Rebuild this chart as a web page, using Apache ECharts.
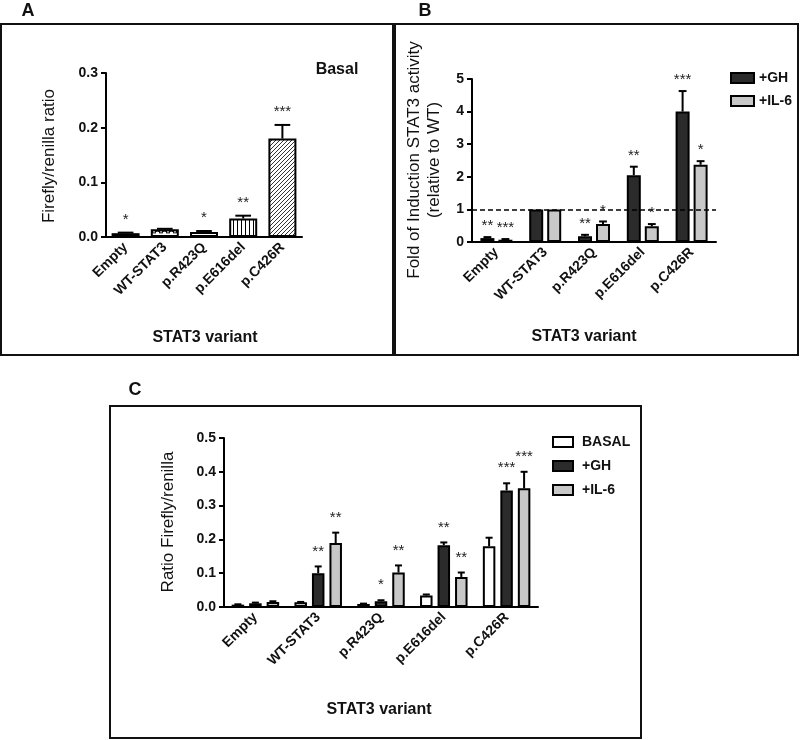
<!DOCTYPE html>
<html><head><meta charset="utf-8">
<script src="https://cdn.jsdelivr.net/npm/echarts@6/dist/echarts.min.js"></script>
<style>html,body{margin:0;padding:0;background:#fff}#c{width:800px;height:740px}</style>
</head><body><div id="c"></div>
<script>
// ---------- data ----------
const categories = ['Empty', 'WT-STAT3', 'p.R423Q', 'p.E616del', 'p.C426R'];

// Panel A (Basal)
const aBasal    = [0.007, 0.014, 0.009, 0.034, 0.180];
const aBasalErr = [0.008, 0.015, 0.011, 0.039, 0.205];
const aStars    = ['*', '', '*', '**', '***'];
const aYTicks   = [0.0, 0.1, 0.2, 0.3];

// Panel B (fold of induction)
const bGH       = [0.12, 1.00, 0.18, 2.05, 4.00];
const bGHErr    = [0.15, 1.00, 0.22, 2.31, 4.63];
const bGHStars  = ['**', '', '**', '**', '***'];
const bIL6      = [0.07, 1.00, 0.55, 0.48, 2.37];
const bIL6Err   = [0.09, 1.00, 0.63, 0.55, 2.48];
const bIL6Stars = ['***', '', '*', '*', '*'];
const bYTicks   = [0, 1, 2, 3, 4, 5];
const bRefLine  = 1;

// Panel C (ratio firefly/renilla)
const cBasal     = [0.007, 0.014, 0.009, 0.034, 0.180];
const cBasalErr  = [0.008, 0.015, 0.010, 0.037, 0.205];
const cBasalStars= ['', '', '', '', ''];
const cGH        = [0.011, 0.100, 0.017, 0.183, 0.345];
const cGHErr     = [0.013, 0.120, 0.020, 0.191, 0.366];
const cGHStars   = ['', '**', '*', '**', '***'];
const cIL6       = [0.015, 0.189, 0.102, 0.089, 0.351];
const cIL6Err    = [0.017, 0.220, 0.123, 0.102, 0.400];
const cIL6Stars  = ['', '**', '**', '**', '***'];
const cYTicks    = [0.0, 0.1, 0.2, 0.3, 0.4, 0.5];

// ---------- styles ----------
const FONT = '"Liberation Sans", Arial, Helvetica, sans-serif';
const GH_COLOR = '#2b2b2b', IL6_COLOR = '#c8c8c8', BASAL_COLOR = '#ffffff';

function pat(w, h, draw) {
  const c = document.createElement('canvas');
  c.width = w; c.height = h;
  const g = c.getContext('2d');
  g.fillStyle = '#fff'; g.fillRect(0, 0, w, h);
  g.strokeStyle = '#000'; g.fillStyle = '#000';
  draw(g);
  return { image: c, repeat: 'repeat' };
}
const patDots = pat(4, 4, g => { g.fillRect(0, 0, 2, 4); });
const patArch = pat(7, 6, g => { g.lineWidth = 1.3; g.beginPath(); g.arc(3.5, 5.5, 2.6, Math.PI, 0); g.stroke(); });
const patVert = pat(4, 4, g => { g.fillRect(1, 0, 1, 4); });
const patDiag = pat(4, 4, g => {
  g.strokeStyle = '#333'; g.lineWidth = 1;
  g.beginPath(); g.moveTo(0, 4); g.lineTo(4, 0);
  g.moveTo(-1, 1); g.lineTo(1, -1); g.moveTo(3, 5); g.lineTo(5, 3); g.stroke();
});
const aFills = [patDots, patArch, '#ffffff', patVert, patDiag];

function errRender(means, errs, stars, offset, bw, starGap) {
  return function (params, api) {
    const i = params.dataIndex;
    const pBase = api.coord([i, means[i]]);
    const pTop = api.coord([i, errs[i]]);
    const x = pBase[0] + offset;
    const half = bw * 0.28;
    const children = [];
    if (errs[i] > means[i]) {
      children.push({ type: 'line', shape: { x1: x, y1: pBase[1], x2: x, y2: pTop[1] }, style: { stroke: '#000', lineWidth: 2 } });
      children.push({ type: 'line', shape: { x1: x - half, y1: pTop[1], x2: x + half, y2: pTop[1] }, style: { stroke: '#000', lineWidth: 2 } });
    }
    if (stars[i]) {
      children.push({ type: 'text', x: x, y: pTop[1] - starGap,
        style: { text: stars[i], fill: '#222', fontSize: 15, fontFamily: FONT, align: 'center', verticalAlign: 'middle' } });
    }
    return { type: 'group', children: children };
  };
}
function offsets(n, bw, gap) {
  const total = n * bw + (n - 1) * gap;
  const res = [];
  for (let k = 0; k < n; k++) res.push(-total / 2 + bw / 2 + k * (bw + gap));
  return res;
}

function xAxisCfg(gi) {
  return {
    type: 'category', gridIndex: gi, data: categories,
    axisLine: { lineStyle: { color: '#000', width: 2 } },
    axisTick: { alignWithLabel: true, length: 5, lineStyle: { color: '#000', width: 2 } },
    axisLabel: { rotate: 45, interval: 0, margin: 8, color: '#111', fontSize: 14, fontWeight: 'bold', fontFamily: FONT },
    splitLine: { show: false }
  };
}
function yAxisCfg(gi, ticks, dec) {
  return {
    type: 'value', gridIndex: gi, min: ticks[0], max: ticks[ticks.length - 1], interval: ticks[1] - ticks[0],
    axisLine: { show: true, lineStyle: { color: '#000', width: 2 } },
    axisTick: { show: true, length: 5, lineStyle: { color: '#000', width: 2 } },
    axisLabel: { margin: 8, color: '#111', fontSize: 14, fontWeight: 'bold', fontFamily: FONT,
      formatter: v => v.toFixed(dec) },
    splitLine: { show: false }
  };
}

// geometry
const A_BW = 28;
const B_BW = 14, B_GAP = 4;
const C_BW = 12.5, C_GAP = 5;
const bOff = offsets(2, B_BW, B_GAP);
const cOff = offsets(3, C_BW, C_GAP);
const barBorder = { borderColor: '#000', borderWidth: 2 };

function errData(means, errs) { return means.map((m, i) => [i, m, errs[i]]); }

const series = [
  // Panel A
  { type: 'bar', name: 'Basal', xAxisIndex: 0, yAxisIndex: 0, barWidth: A_BW,
    data: aBasal.map((v, i) => ({ value: v, itemStyle: { color: aFills[i] } })),
    itemStyle: barBorder },
  { type: 'custom', xAxisIndex: 0, yAxisIndex: 0, clip: false, z: 5,
    renderItem: errRender(aBasal, aBasalErr, aStars, 0, A_BW, 13),
    encode: { x: 0, y: 2 }, data: errData(aBasal, aBasalErr) },

  // Panel B
  { type: 'bar', name: '+GH', xAxisIndex: 1, yAxisIndex: 1, barWidth: B_BW, barGap: (B_GAP / B_BW * 100) + '%',
    data: bGH, itemStyle: Object.assign({ color: GH_COLOR }, barBorder),
    markLine: { silent: true, symbol: 'none', label: { show: false },
      lineStyle: { color: '#000', type: [5, 3], width: 1.5 }, data: [{ yAxis: bRefLine }] } },
  { type: 'bar', name: '+IL-6', xAxisIndex: 1, yAxisIndex: 1, barWidth: B_BW, barGap: (B_GAP / B_BW * 100) + '%',
    data: bIL6, itemStyle: Object.assign({ color: IL6_COLOR }, barBorder) },
  { type: 'custom', xAxisIndex: 1, yAxisIndex: 1, clip: false, z: 5,
    renderItem: errRender(bGH, bGHErr, bGHStars, bOff[0], B_BW, 11),
    encode: { x: 0, y: 2 }, data: errData(bGH, bGHErr) },
  { type: 'custom', xAxisIndex: 1, yAxisIndex: 1, clip: false, z: 5,
    renderItem: errRender(bIL6, bIL6Err, bIL6Stars, bOff[1], B_BW, 11),
    encode: { x: 0, y: 2 }, data: errData(bIL6, bIL6Err) },

  // Panel C
  { type: 'bar', name: 'BASAL', xAxisIndex: 2, yAxisIndex: 2, barWidth: C_BW, barGap: (C_GAP / C_BW * 100) + '%',
    data: cBasal, itemStyle: Object.assign({ color: BASAL_COLOR }, barBorder) },
  { type: 'bar', name: '+GH', xAxisIndex: 2, yAxisIndex: 2, barWidth: C_BW, barGap: (C_GAP / C_BW * 100) + '%',
    data: cGH, itemStyle: Object.assign({ color: GH_COLOR }, barBorder) },
  { type: 'bar', name: '+IL-6', xAxisIndex: 2, yAxisIndex: 2, barWidth: C_BW, barGap: (C_GAP / C_BW * 100) + '%',
    data: cIL6, itemStyle: Object.assign({ color: IL6_COLOR }, barBorder) },
  { type: 'custom', xAxisIndex: 2, yAxisIndex: 2, clip: false, z: 5,
    renderItem: errRender(cBasal, cBasalErr, cBasalStars, cOff[0], C_BW, 15),
    encode: { x: 0, y: 2 }, data: errData(cBasal, cBasalErr) },
  { type: 'custom', xAxisIndex: 2, yAxisIndex: 2, clip: false, z: 5,
    renderItem: errRender(cGH, cGHErr, cGHStars, cOff[1], C_BW, 15),
    encode: { x: 0, y: 2 }, data: errData(cGH, cGHErr) },
  { type: 'custom', xAxisIndex: 2, yAxisIndex: 2, clip: false, z: 5,
    renderItem: errRender(cIL6, cIL6Err, cIL6Stars, cOff[2], C_BW, 15),
    encode: { x: 0, y: 2 }, data: errData(cIL6, cIL6Err) }
];

function txt(text, x, y, size, weight, rot) {
  return { type: 'text', x: x, y: y, rotation: rot || 0,
    style: { text: text, fill: '#111', fontSize: size, fontWeight: weight, fontFamily: FONT, align: 'center', verticalAlign: 'middle' } };
}
function frame(x, y, w, h) {
  return { type: 'rect', shape: { x: x, y: y, width: w, height: h }, style: { fill: 'none', stroke: '#111', lineWidth: 2 }, z: 100 };
}

const option = {
  animation: false,
  backgroundColor: '#fff',
  textStyle: { fontFamily: FONT },
  grid: [
    { left: 106, top: 73, width: 196, height: 164 },
    { left: 472, top: 79, width: 244, height: 163 },
    { left: 224, top: 438, width: 314, height: 169 }
  ],
  xAxis: [xAxisCfg(0), xAxisCfg(1), xAxisCfg(2)],
  yAxis: [yAxisCfg(0, aYTicks, 1), yAxisCfg(1, bYTicks, 0), yAxisCfg(2, cYTicks, 1)],
  legend: [
    { data: ['+GH', '+IL-6'], orient: 'vertical', left: 730, top: 71, padding: 0, icon: 'rect',
      itemWidth: 23, itemHeight: 10, itemGap: 9, selectedMode: false,
      itemStyle: { borderColor: '#000', borderWidth: 2 },
      textStyle: { fontSize: 14, fontWeight: 'bold', color: '#111', fontFamily: FONT } },
    { data: ['BASAL', '+GH', '+IL-6'], orient: 'vertical', left: 552, top: 435, padding: 0, icon: 'rect',
      itemWidth: 20, itemHeight: 10, itemGap: 10, selectedMode: false,
      itemStyle: { borderColor: '#000', borderWidth: 2 },
      textStyle: { fontSize: 14, fontWeight: 'bold', color: '#111', fontFamily: FONT, padding: [0, 0, 0, 4] } }
  ],
  graphic: [
    frame(1, 24, 392, 331),
    frame(395, 24, 403, 331),
    frame(110, 406, 531, 332),
    txt('A', 28, 11, 18, 'bold'),
    txt('B', 425, 11, 18, 'bold'),
    txt('C', 135, 390, 18, 'bold'),
    txt('Basal', 337, 70, 16, 'bold'),
    txt('Firefly/renilla ratio', 49, 156, 17, 'normal', Math.PI / 2),
    txt('Fold of Induction STAT3 activity', 414, 160, 17, 'normal', Math.PI / 2),
    txt('(relative to WT)', 434, 160, 17, 'normal', Math.PI / 2),
    txt('Ratio Firefly/renilla', 168, 522, 17, 'normal', Math.PI / 2),
    txt('STAT3 variant', 205, 338, 16, 'bold'),
    txt('STAT3 variant', 584, 337, 16, 'bold'),
    txt('STAT3 variant', 379, 710, 16, 'bold')
  ],
  series: series
};

const chart = echarts.init(document.getElementById('c'), null, { renderer: 'canvas' });
chart.setOption(option);
</script>
</body></html>
